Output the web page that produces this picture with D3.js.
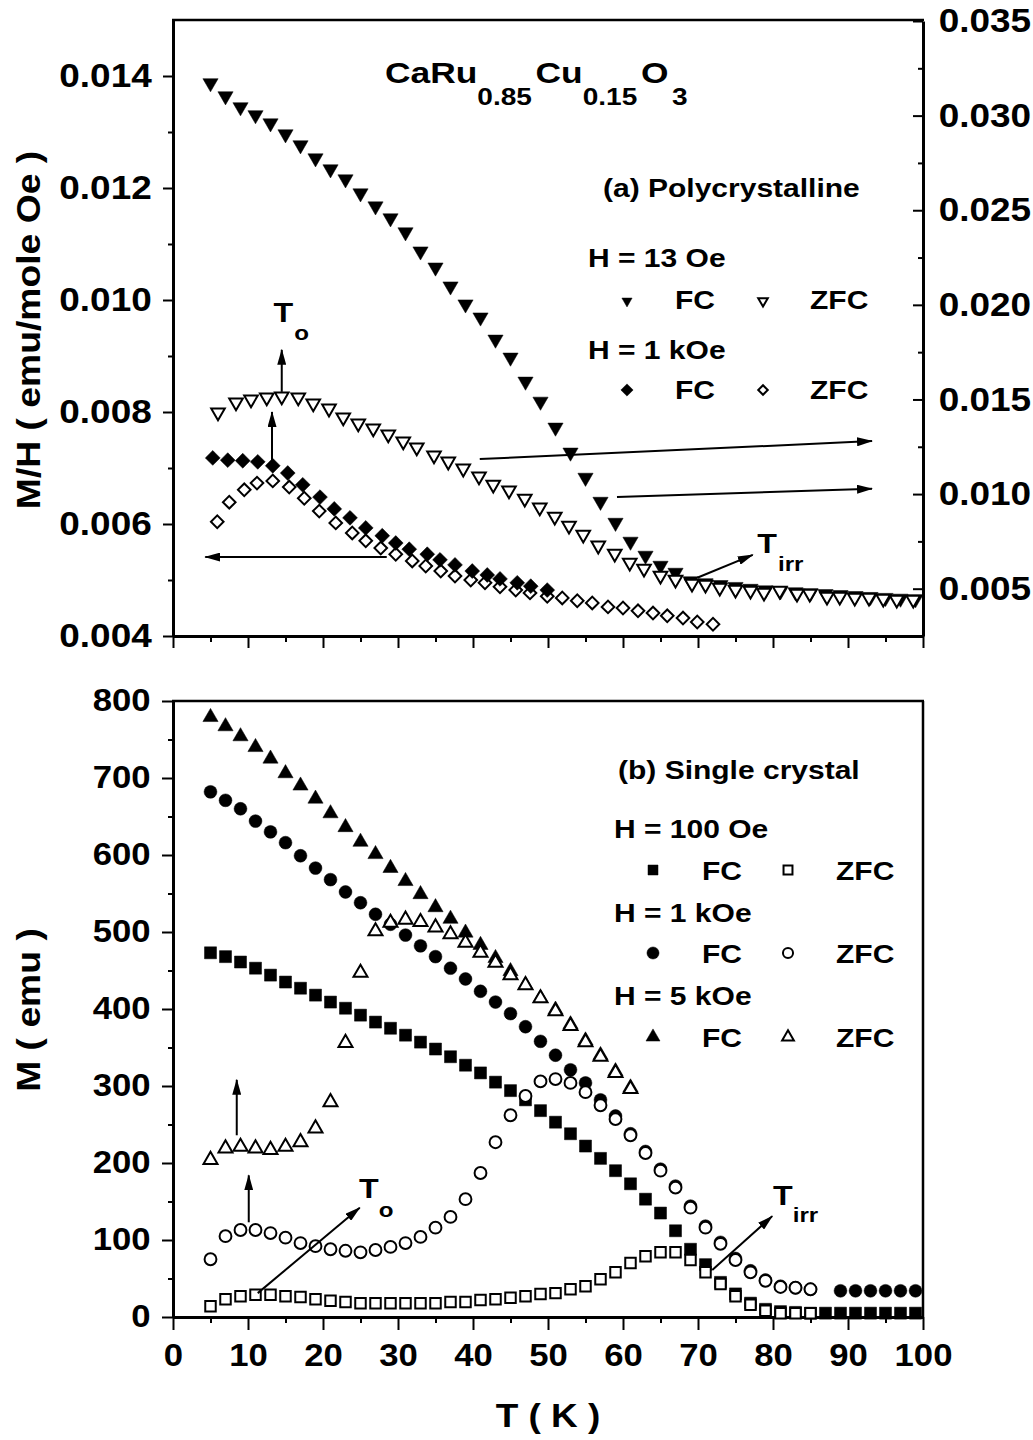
<!DOCTYPE html>
<html>
<head>
<meta charset="utf-8">
<script src="https://cdn.jsdelivr.net/npm/d3@7"></script>
<style>
  body { margin: 0; background: #fff; }
  svg { font-family: "Liberation Sans", Arial, sans-serif; font-weight: bold; }
  .axis path.domain { stroke: #000; stroke-width: 3; }
  .axis line { stroke: #000; stroke-width: 2; }
  .axis text { fill: #000; font-weight: bold; }
</style>
</head>
<body>
<div id="chart"></div>
<script>
// tick values
var tTicks = [0, 10, 20, 30, 40, 50, 60, 70, 80, 90, 100];
var tMinor = [5, 15, 25, 35, 45, 55, 65, 75, 85, 95];
var mhLeftTicks = [0.004, 0.006, 0.008, 0.010, 0.012, 0.014];
var mhLeftMinor = [0.005, 0.007, 0.009, 0.011, 0.013];
var mhRightTicks = [0.005, 0.010, 0.015, 0.020, 0.025, 0.030, 0.035];
var mhRightMinor = [0.0075, 0.0125, 0.0175, 0.0225, 0.0275, 0.0325];
var mTicks = [0, 100, 200, 300, 400, 500, 600, 700, 800];
var mMinor = [50, 150, 250, 350, 450, 550, 650, 750];

// (a) polycrystalline, H = 13 Oe (right axis)
var tFC13 = [5, 7, 9, 11, 13, 15, 17, 19, 21, 23, 25, 27, 29, 31, 33, 35, 37, 39, 41, 43, 45, 47, 49, 51, 53, 55, 57, 59, 61, 63, 65, 67, 69, 71, 73, 75, 77, 79, 81, 83, 85, 87, 89, 91, 93, 95, 97, 99];
var mhFC13 = [0.03172, 0.03103, 0.03045, 0.03003, 0.0296, 0.02902, 0.02844, 0.02775, 0.02717, 0.02664, 0.0259, 0.02521, 0.02458, 0.02384, 0.02283, 0.02198, 0.02098, 0.02003, 0.01934, 0.01817, 0.01722, 0.01595, 0.01489, 0.01352, 0.0122, 0.01087, 0.0096, 0.00849, 0.00749, 0.00675, 0.00622, 0.00585, 0.0054, 0.0053, 0.0052, 0.0051, 0.005, 0.00492, 0.00487, 0.00482, 0.00477, 0.00472, 0.00467, 0.00462, 0.00457, 0.00452, 0.00448, 0.00445];
var tZFC13 = [6, 8.4, 10.4, 12.5, 14.5, 16.7, 18.7, 20.8, 22.7, 24.7, 26.7, 28.7, 30.7, 32.5, 34.8, 36.7, 38.7, 40.8, 42.7, 44.8, 46.9, 48.9, 50.9, 52.8, 54.7, 56.7, 58.9, 60.9, 62.8, 65, 67, 69.2, 71, 72.9, 75, 77, 78.8, 80.9, 83.2, 84.9, 87.2, 88.9, 90.9, 92.8, 94.7, 96.5, 98.7];
var mhZFC13 = [0.01431, 0.01484, 0.015, 0.01511, 0.01516, 0.01511, 0.01479, 0.01452, 0.01405, 0.01373, 0.01347, 0.01315, 0.01278, 0.01246, 0.01204, 0.01172, 0.01135, 0.01093, 0.0105, 0.01019, 0.00976, 0.00929, 0.00881, 0.00833, 0.00786, 0.00728, 0.00685, 0.00638, 0.00606, 0.00569, 0.00548, 0.00526, 0.00521, 0.00505, 0.00495, 0.0049, 0.00479, 0.0049, 0.00474, 0.00474, 0.00458, 0.00458, 0.00452, 0.00452, 0.00447, 0.00442, 0.00442];

// (a) polycrystalline, H = 1 kOe (left axis)
var tFC1k = [5.3, 7.3, 9.3, 11.3, 13.3, 15.3, 17.3, 19.6, 21.5, 23.6, 25.7, 27.9, 29.7, 31.5, 33.9, 35.6, 37.6, 39.9, 41.9, 43.6, 45.9, 47.7, 49.9];
var mhFC1k = [0.00718, 0.00714, 0.00713, 0.00711, 0.00704, 0.00691, 0.0067, 0.00648, 0.00627, 0.00611, 0.00593, 0.00579, 0.00566, 0.00555, 0.00546, 0.00536, 0.00527, 0.00516, 0.00509, 0.00502, 0.00495, 0.00489, 0.00482];
var tZFC1k = [5.9, 7.5, 9.5, 11.2, 13.3, 15.5, 17.5, 19.5, 21.7, 23.9, 25.7, 27.7, 29.7, 31.9, 33.7, 35.7, 37.6, 39.7, 41.6, 43.6, 45.7, 47.6, 49.9, 51.9, 53.9, 55.9, 58, 60, 62, 64, 65.9, 68, 69.9, 72];
var mhZFC1k = [0.00604, 0.00639, 0.00661, 0.00673, 0.00677, 0.00666, 0.00646, 0.00623, 0.00602, 0.00584, 0.0057, 0.00557, 0.00546, 0.00534, 0.00525, 0.00516, 0.00507, 0.005, 0.00495, 0.00488, 0.00482, 0.00477, 0.00471, 0.00468, 0.00463, 0.00459, 0.00452, 0.0045, 0.00445, 0.00441, 0.00436, 0.00432, 0.00425, 0.00421];

// (b) single crystal
var tFC100 = [5, 7, 9, 11, 13, 15, 17, 19, 21, 23, 25, 27, 29, 31, 33, 35, 37, 39, 41, 43, 45, 47, 49, 51, 53, 55, 57, 59, 61, 63, 65, 67, 69, 71, 73, 75, 77, 79, 81, 83, 85, 87, 89, 91, 93, 95, 97, 99];
var mFC100 = [473, 468, 461, 453, 444, 435, 427, 418, 409, 401, 392, 383, 375, 366, 357, 348, 338, 327, 317, 305, 294, 282, 268, 253, 238, 222, 206, 190, 173, 153, 135, 112, 88, 68, 45, 30, 18, 10, 7, 6, 5, 5, 5, 5, 5, 5, 5, 5];
var tZFC100 = [5, 7, 9, 11, 13, 15, 17, 19, 21, 23, 25, 27, 29, 31, 33, 35, 37, 39, 41, 43, 45, 47, 49, 51, 53, 55, 57, 59, 61, 63, 65, 67, 69, 71, 73, 75, 77, 79, 81, 83, 85];
var mZFC100 = [14, 23, 27, 29, 29, 27, 26, 23, 21, 19.5, 18, 18, 18, 18, 18, 18, 19.5, 19.5, 22, 23, 25, 27, 30, 31, 36, 40, 49, 58, 70, 79, 84, 84, 74, 58, 43, 27, 16, 8, 5, 5, 5];
var tFC1kB = [5, 7, 9, 11, 13, 15, 17, 19, 21, 23, 25, 27, 29, 31, 33, 35, 37, 39, 41, 43, 45, 47, 49, 51, 53, 55, 57, 59, 61, 63, 65, 67, 69, 71, 73, 75, 77, 79, 81, 83, 85, 89, 91, 93, 95, 97, 99];
var mFC1kB = [682, 671, 660, 644, 630, 616, 599, 583, 568, 552, 538, 523, 510, 496, 482, 468, 453, 439, 423, 409, 394, 377, 358, 340, 321, 304, 282, 261, 238, 215, 192, 170, 144, 118, 97, 76, 60, 48, 40, 38, 36, 34, 34, 34, 34, 34, 34];
var tZFC1kB = [5, 7, 9, 11, 13, 15, 17, 19, 21, 23, 25, 27, 29, 31, 33, 35, 37, 39, 41, 43, 45, 47, 49, 51, 53, 55, 57, 59, 61, 63, 65, 67, 69, 71, 73, 75, 77, 79, 81, 83, 85];
var mZFC1kB = [75, 105, 113, 113, 109, 103, 96, 92, 88, 86, 84, 87, 91, 96, 104, 116, 130, 153, 187, 227, 262, 287, 306, 309, 304, 292, 275, 257, 236, 213, 190, 168, 142, 116, 95, 74, 58, 47, 39, 38, 36];
var tFC5k = [5, 7, 9, 11, 13, 15, 17, 19, 21, 23, 25, 27, 29, 31, 33, 35, 37, 39, 41, 43, 45, 47, 49, 51, 53, 55, 57, 59, 61];
var mFC5k = [779, 767, 754, 740, 725, 706, 690, 673, 654, 636, 617, 601, 583, 566, 549, 532, 517, 499, 483, 466, 449, 431, 414, 399, 380, 359, 340, 319, 298];
var tZFC5k = [5, 7, 9, 11, 13, 15, 17, 19, 21, 23, 25, 27, 29, 31, 33, 35, 37, 39, 41, 43, 45, 47, 49, 51, 53, 55, 57, 59, 61];
var mZFC5k = [204, 219, 221, 219, 217, 221, 227, 245, 279, 356, 447, 501, 512, 516, 513, 506, 497, 486, 473, 460, 444, 431, 414, 397, 378, 357, 338, 317, 296];

// annotation arrows, in data units [T1, v1, T2, v2]
var arrowsA = [[14.5, 0.00836, 14.5, 0.00911], [13.2, 0.00714, 13.2, 0.008], [28.5, 0.00541, 4.3, 0.00541],
               [40.9, 0.00716, 93.2, 0.00748], [59.2, 0.00648, 93.2, 0.00663], [69.9, 0.00504, 77.3, 0.00545]];
var arrowsB = [[8.5, 236, 8.5, 308], [10.1, 123, 10.1, 184], [11.3, 31, 24.9, 142], [71.9, 61, 79.9, 131]];

var svg = d3.select("#chart").append("svg")
    .attr("width", 1033)
    .attr("height", 1440);

svg.append("rect").attr("width", 1033).attr("height", 1440).attr("fill", "#fff");

svg.append("defs").append("marker")
    .attr("id", "ah")
    .attr("markerUnits", "userSpaceOnUse")
    .attr("viewBox", "0 0 16 9")
    .attr("markerWidth", 16)
    .attr("markerHeight", 9)
    .attr("refX", 15)
    .attr("refY", 4.5)
    .attr("orient", "auto")
    .append("path")
    .attr("d", "M0,0L16,4.5L0,9z")
    .attr("fill", "#000");

// scales
var x = d3.scaleLinear().domain([0, 100]).range([173, 923]);
var yL = d3.scaleLinear().domain([0.004, 0.015]).range([636, 20]);
var yR = d3.scaleLinear().domain([0.0025, 0.035]).range([636, 21]);
var yB = d3.scaleLinear().domain([0, 800]).range([1317, 701]);

// stretched bold text helper
function txt(g, px, py, s, size, anchor, sx) {
    return g.append("text")
        .attr("transform", "translate(" + px + "," + py + ") scale(" + (sx || 1.2) + ",1)")
        .attr("text-anchor", anchor || "start")
        .style("font-size", size + "px")
        .text(s);
}

function styleTicks(sel, size) {
    sel.selectAll("text")
        .style("font-size", size + "px")
        .attr("transform", "scale(1.12,1)");
}

// ---- (a) axes ----
var gA = svg.append("g");

gA.append("g").attr("class", "axis").attr("transform", "translate(0,636)")
    .call(d3.axisBottom(x).tickValues(tTicks).tickSize(12).tickSizeOuter(0).tickFormat(""));
gA.append("g").attr("class", "axis").attr("transform", "translate(0,636)")
    .call(d3.axisBottom(x).tickValues(tMinor).tickSize(6).tickFormat(""))
    .select(".domain").remove();

var axL = gA.append("g").attr("class", "axis").attr("transform", "translate(173,0)")
    .call(d3.axisLeft(yL).tickValues(mhLeftTicks).tickSize(10).tickSizeOuter(0).tickPadding(9).tickFormat(d3.format(".3f")));
styleTicks(axL, 33);
gA.append("g").attr("class", "axis").attr("transform", "translate(173,0)")
    .call(d3.axisLeft(yL).tickValues(mhLeftMinor).tickSize(5).tickFormat(""))
    .select(".domain").remove();

var axR = gA.append("g").attr("class", "axis").attr("transform", "translate(923,0)")
    .call(d3.axisRight(yR).tickValues(mhRightTicks).tickSize(-10).tickSizeOuter(0).tickPadding(14).tickFormat(d3.format(".3f")));
styleTicks(axR, 33);
gA.append("g").attr("class", "axis").attr("transform", "translate(923,0)")
    .call(d3.axisRight(yR).tickValues(mhRightMinor).tickSize(-5).tickFormat(""))
    .select(".domain").remove();

gA.append("line").attr("x1", 172).attr("x2", 924).attr("y1", 20).attr("y2", 20)
    .attr("stroke", "#000").attr("stroke-width", 2.5);

// ---- (b) axes ----
var gB = svg.append("g");

var axB = gB.append("g").attr("class", "axis").attr("transform", "translate(0,1317)")
    .call(d3.axisBottom(x).tickValues(tTicks).tickSize(13).tickSizeOuter(0).tickPadding(14));
styleTicks(axB, 31);
gB.append("g").attr("class", "axis").attr("transform", "translate(0,1317)")
    .call(d3.axisBottom(x).tickValues(tMinor).tickSize(6).tickFormat(""))
    .select(".domain").remove();

var axBL = gB.append("g").attr("class", "axis").attr("transform", "translate(173,0)")
    .call(d3.axisLeft(yB).tickValues(mTicks).tickSize(11).tickSizeOuter(0).tickPadding(9));
styleTicks(axBL, 31);
gB.append("g").attr("class", "axis").attr("transform", "translate(173,0)")
    .call(d3.axisLeft(yB).tickValues(mMinor).tickSize(5).tickFormat(""))
    .select(".domain").remove();

gB.append("line").attr("x1", 172).attr("x2", 924).attr("y1", yB(800)).attr("y2", yB(800))
    .attr("stroke", "#000").attr("stroke-width", 2.5);
gB.append("line").attr("x1", 923).attr("x2", 923).attr("y1", yB(800)).attr("y2", yB(0))
    .attr("stroke", "#000").attr("stroke-width", 2.5);

// ---- markers ----
var shapes = {
    down: { type: d3.symbolTriangle, rot: 180 },
    up: { type: d3.symbolTriangle, rot: 0 },
    sq: { type: d3.symbolSquare, rot: 0 },
    circ: { type: d3.symbolCircle, rot: 0 },
    diam: { type: d3.symbolSquare, rot: 45 }
};

function marker(g, px, py, shape, filled, size) {
    var s = shapes[shape];
    g.append("path")
        .attr("d", d3.symbol().type(s.type).size(size)())
        .attr("transform", "translate(" + px + "," + py + ") rotate(" + s.rot + ")")
        .attr("fill", filled ? "#000" : "#fff")
        .attr("stroke", "#000")
        .attr("stroke-width", filled ? 0.5 : 2);
}

function plotSeries(g, T, V, yScale, shape, filled, size) {
    var sh = shapes[shape];
    g.append("g").selectAll("path")
        .data(T.map(function (t, i) { return [t, V[i]]; }))
        .enter()
        .append("path")
        .attr("d", d3.symbol().type(sh.type).size(size))
        .attr("transform", function (d) {
            return "translate(" + x(d[0]) + "," + yScale(d[1]) + ") rotate(" + sh.rot + ")";
        })
        .attr("fill", filled ? "#000" : "#fff")
        .attr("stroke", "#000")
        .attr("stroke-width", filled ? 0.5 : 2);
}

// (a) data
plotSeries(gA, tFC13, mhFC13, yR, "down", true, 100);
plotSeries(gA, tZFC13, mhZFC13, yR, "down", false, 80);
plotSeries(gA, tZFC1k, mhZFC1k, yL, "diam", false, 80);
plotSeries(gA, tFC1k, mhFC1k, yL, "diam", true, 110);

// (b) data
plotSeries(gB, tFC100, mFC100, yB, "sq", true, 144);
plotSeries(gB, tFC1kB, mFC1kB, yB, "circ", true, 130);
plotSeries(gB, tFC5k, mFC5k, yB, "up", true, 100);
plotSeries(gB, tZFC100, mZFC100, yB, "sq", false, 110);
plotSeries(gB, tZFC1kB, mZFC1kB, yB, "circ", false, 110);
plotSeries(gB, tZFC5k, mZFC5k, yB, "up", false, 85);

// ---- arrows ----
gA.selectAll("line.arr").data(arrowsA).enter().append("line")
    .attr("class", "arr")
    .attr("x1", function (d) { return x(d[0]); })
    .attr("y1", function (d) { return yL(d[1]); })
    .attr("x2", function (d) { return x(d[2]); })
    .attr("y2", function (d) { return yL(d[3]); })
    .attr("stroke", "#000").attr("stroke-width", 2)
    .attr("marker-end", "url(#ah)");

gB.selectAll("line.arr").data(arrowsB).enter().append("line")
    .attr("class", "arr")
    .attr("x1", function (d) { return x(d[0]); })
    .attr("y1", function (d) { return yB(d[1]); })
    .attr("x2", function (d) { return x(d[2]); })
    .attr("y2", function (d) { return yB(d[3]); })
    .attr("stroke", "#000").attr("stroke-width", 2)
    .attr("marker-end", "url(#ah)");

// annotation labels
txt(gA, x(14.7), yL(0.00961), "T", 28, "middle", 1.15);
txt(gA, x(14.7) + 11, yL(0.00961) + 18, "o", 21, "start", 1.15);
txt(gA, x(79.2), yL(0.005482), "T", 28, "middle", 1.15);
txt(gA, x(79.2) + 11, yL(0.005482) + 18, "irr", 21, "start", 1.15);

txt(gB, x(26.1), yB(154.5), "T", 28, "middle", 1.15);
txt(gB, x(26.1) + 10, yB(154.5) + 19, "o", 21, "start", 1.15);
txt(gB, x(81.3), yB(145.5), "T", 28, "middle", 1.15);
txt(gB, x(81.3) + 10, yB(145.5) + 17, "irr", 21, "start", 1.15);

// ---- title ----
var title = svg.append("text")
    .attr("transform", "translate(385,83) scale(1.22,1)")
    .style("font-size", "29px");
title.append("tspan").text("CaRu");
title.append("tspan").attr("dy", 22).style("font-size", "23px").text("0.85");
title.append("tspan").attr("dy", -22).attr("dx", 3).text("Cu");
title.append("tspan").attr("dy", 22).style("font-size", "23px").text("0.15");
title.append("tspan").attr("dy", -22).attr("dx", 3).text("O");
title.append("tspan").attr("dy", 22).attr("dx", 3).style("font-size", "23px").text("3");

// ---- legends ----
txt(svg, 603, 197, "(a) Polycrystalline", 25);
txt(svg, 588, 267, "H = 13 Oe", 25);
marker(svg, 627, 301, "down", true, 45);
txt(svg, 675, 309, "FC", 25);
marker(svg, 763, 301, "down", false, 40);
txt(svg, 810, 309, "ZFC", 25);
txt(svg, 588, 359, "H = 1 kOe", 25);
marker(svg, 627, 390, "diam", true, 75);
txt(svg, 675, 399, "FC", 25);
marker(svg, 763, 390, "diam", false, 45);
txt(svg, 810, 399, "ZFC", 25);

txt(svg, 618, 779, "(b) Single crystal", 25);
txt(svg, 614, 838, "H = 100 Oe", 25);
marker(svg, 653, 870, "sq", true, 100);
txt(svg, 702, 880, "FC", 25);
marker(svg, 788, 870, "sq", false, 80);
txt(svg, 836, 880, "ZFC", 25);
txt(svg, 614, 922, "H = 1 kOe", 25);
marker(svg, 653, 953, "circ", true, 115);
txt(svg, 702, 963, "FC", 25);
marker(svg, 788, 953, "circ", false, 80);
txt(svg, 836, 963, "ZFC", 25);
txt(svg, 614, 1005, "H = 5 kOe", 25);
marker(svg, 653, 1037, "up", true, 85);
txt(svg, 702, 1047, "FC", 25);
marker(svg, 788, 1037, "up", false, 60);
txt(svg, 836, 1047, "ZFC", 25);

// ---- axis titles ----
svg.append("text")
    .attr("transform", "translate(40,330) rotate(-90) scale(1.13,1)")
    .attr("text-anchor", "middle")
    .style("font-size", "33px")
    .text("M/H ( emu/mole Oe )");
svg.append("text")
    .attr("transform", "translate(40,1010) rotate(-90) scale(1.13,1)")
    .attr("text-anchor", "middle")
    .style("font-size", "33px")
    .text("M ( emu )");
txt(svg, 548, 1427, "T ( K )", 33, "middle", 1.12);
</script>
</body>
</html>
